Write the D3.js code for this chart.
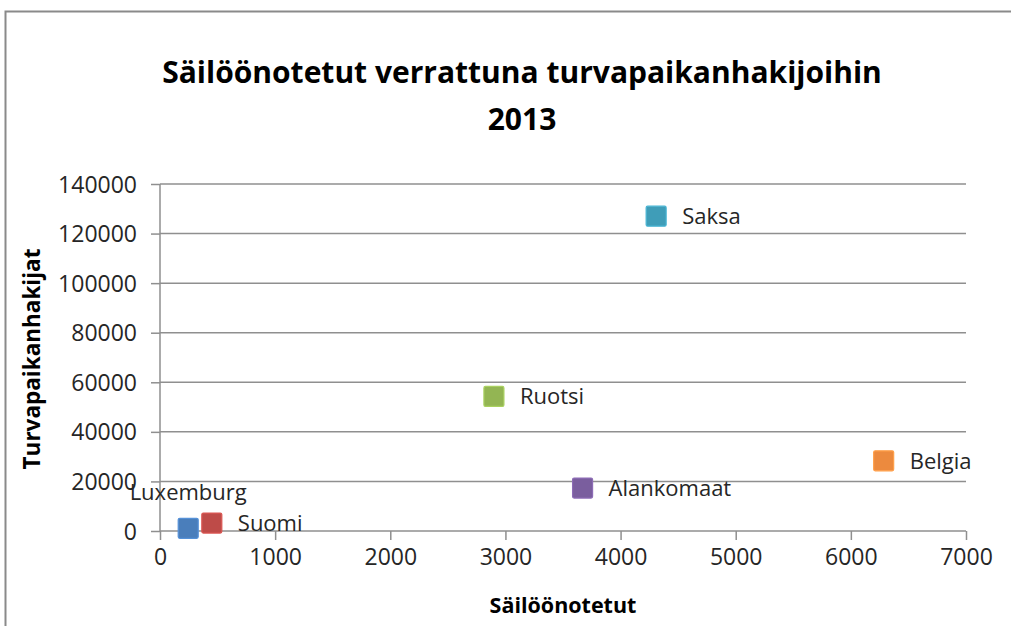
<!DOCTYPE html>
<html><head><meta charset="utf-8">
<script src="https://cdn.jsdelivr.net/npm/d3@7"></script>
<style>
html,body{margin:0;padding:0;background:#fff;}
svg{display:block;font-family:"Open Sans",sans-serif;}
</style></head>
<body><svg id="c" width="1011" height="626"></svg>
<script>
const countries = ["Luxemburg","Suomi","Saksa","Belgia","Ruotsi","Alankomaat"];
const detained  = [245, 450, 4309, 6285, 2900, 3670];
const asylum    = [1070, 3210, 127000, 28300, 54300, 17300];
const colors    = ["#4A7EBB","#BE4B48","#3F9DB8","#EC8A3E","#93B553","#7A5E9E"];
const xTicks = [0,1000,2000,3000,4000,5000,6000,7000];
const yTicks = [0,20000,40000,60000,80000,100000,120000,140000];
const title1 = "Säilöönotetut verrattuna turvapaikanhakijoihin";
const title2 = "2013";
const xTitle = "Säilöönotetut";
const yTitle = "Turvapaikanhakijat";

const FONT = "'Open Sans',sans-serif";
const svg = d3.select("#c");
// frame
svg.append("path").attr("d","M5.5,626 V11.5 H1011").attr("fill","none").attr("stroke","#8a8a8a").attr("stroke-width",2);

const L=160, R=966, T=184, B=531;
const x = d3.scaleLinear().domain([0,7000]).range([L,R]);
const y = d3.scaleLinear().domain([0,140000]).range([B,T]);
const grid="#8f8f8f";

// gridlines
svg.append("g").selectAll("line").data(yTicks.filter(d=>d>0)).join("line")
  .attr("x1",L).attr("x2",R).attr("y1",d=>y(d)).attr("y2",d=>y(d))
  .attr("stroke",grid).attr("stroke-width",1.5);

// y axis
const ya = svg.append("g").attr("transform",`translate(${L},0)`)
  .call(d3.axisLeft(y).tickValues(yTicks).tickFormat(d3.format("d")).tickSize(9).tickPadding(14));
ya.select(".domain").attr("stroke",grid).attr("stroke-width",1.5).attr("d",`M0,${T}V${B}`);
ya.selectAll(".tick line").attr("stroke",grid).attr("stroke-width",1.5);
ya.selectAll(".tick text").attr("font-size",23).attr("fill","#262626").attr("font-family",FONT).attr("dy","0.35em");

// x axis
const xa = svg.append("g").attr("transform",`translate(0,${B})`)
  .call(d3.axisBottom(x).tickValues(xTicks).tickFormat(d3.format("d")).tickSize(9).tickPadding(9));
xa.select(".domain").attr("stroke",grid).attr("stroke-width",1.5).attr("d",`M${L},0H${R}`);
xa.selectAll(".tick line").attr("stroke",grid).attr("stroke-width",1.5);
xa.selectAll(".tick text").attr("font-size",23).attr("fill","#262626").attr("font-family",FONT);

// points
const data = countries.map((c,i)=>({c, xv:detained[i], yv:asylum[i], col:colors[i]}));
const s=20;
svg.append("g").selectAll("rect").data(data).join("rect")
  .attr("x",d=>x(d.xv)-s/2).attr("y",d=>y(d.yv)-s/2).attr("width",s).attr("height",s)
  .attr("rx",1.5).attr("fill",d=>d.col)
  .attr("stroke",d=>d3.color(d.col).brighter(0.4)).attr("stroke-width",1.2);

svg.append("g").selectAll("text").data(data).join("text")
  .attr("x",d=> d.c==="Luxemburg" ? x(d.xv) : x(d.xv)+26)
  .attr("y",d=> d.c==="Luxemburg" ? y(d.yv)-28 : y(d.yv)+8)
  .attr("text-anchor",d=> d.c==="Luxemburg" ? "middle":"start")
  .attr("font-size",22).attr("fill","#262626").text(d=>d.c);

// titles
svg.append("text").attr("x",522).attr("y",83).attr("text-anchor","middle")
  .attr("font-size",30).attr("font-weight","bold").attr("fill","#000").text(title1);
svg.append("text").attr("x",522).attr("y",130).attr("text-anchor","middle")
  .attr("font-size",30).attr("font-weight","bold").attr("fill","#000").text(title2);
svg.append("text").attr("x",563).attr("y",613).attr("text-anchor","middle")
  .attr("font-size",21.5).attr("font-weight","bold").attr("fill","#000").text(xTitle);
svg.append("text").attr("transform","translate(40,359) rotate(-90)").attr("text-anchor","middle")
  .attr("font-size",22.5).attr("font-weight","bold").attr("fill","#000").text(yTitle);
</script></body></html>
